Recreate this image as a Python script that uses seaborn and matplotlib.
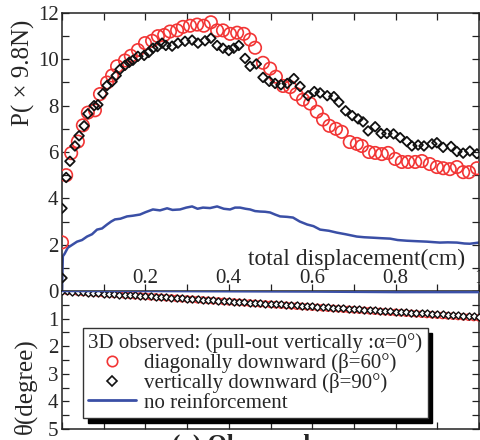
import matplotlib
matplotlib.use("Agg")
import matplotlib.pyplot as plt
from matplotlib.lines import Line2D
from matplotlib.ticker import MultipleLocator
import seaborn as sns

# ---------------- data ----------------
# pull-out load P (x9.8N) vs total displacement (cm)
disp_diag = [0.0, 0.010, 0.022, 0.038, 0.050, 0.062, 0.079, 0.091, 0.108, 0.120, 0.132, 0.151,
             0.165, 0.182, 0.199, 0.216, 0.230, 0.245, 0.259, 0.276, 0.290, 0.307, 0.324, 0.340,
             0.357, 0.372, 0.386, 0.403, 0.420, 0.436, 0.451, 0.463, 0.482, 0.499, 0.513, 0.530,
             0.547, 0.562, 0.578, 0.595, 0.611, 0.626, 0.641, 0.657, 0.671, 0.690, 0.707, 0.719,
             0.736, 0.751, 0.767, 0.782, 0.799, 0.815, 0.830, 0.847, 0.863, 0.882, 0.899, 0.914,
             0.930, 0.947, 0.962, 0.976, 0.995]
P_diag = [2.1, 5.0, 5.95, 6.45, 7.15, 7.7, 7.8, 8.5, 9.0, 9.3, 9.7, 9.95,
          10.15, 10.4, 10.7, 10.8, 11.0, 11.05, 11.2, 11.25, 11.4, 11.45, 11.5, 11.45,
          11.6, 11.25, 11.25, 11.1, 11.15, 11.1, 10.85, 10.5, 9.85, 9.6, 9.25, 8.85,
          8.8, 8.5, 8.26, 8.09, 7.74, 7.4, 7.13, 7.0, 6.87, 6.43, 6.35, 6.26,
          6.0, 5.96, 5.91, 5.96, 5.7, 5.57, 5.57, 5.57, 5.61, 5.48, 5.35, 5.3,
          5.26, 5.35, 5.13, 5.13, 5.3]

disp_vert = [0.0, 0.0, 0.010, 0.019, 0.031, 0.041, 0.053, 0.062, 0.077, 0.086, 0.098, 0.108,
             0.120, 0.130, 0.139, 0.151, 0.161, 0.170, 0.182, 0.197, 0.208, 0.218, 0.229, 0.240,
             0.249, 0.264, 0.278, 0.295, 0.312, 0.326, 0.343, 0.357, 0.372, 0.386, 0.400, 0.412,
             0.424, 0.439, 0.451, 0.466, 0.482, 0.497, 0.511, 0.525, 0.540, 0.556, 0.571, 0.590,
             0.605, 0.619, 0.636, 0.652, 0.664, 0.680, 0.696, 0.710, 0.722, 0.734, 0.751, 0.765,
             0.779, 0.795, 0.811, 0.827, 0.839, 0.854, 0.868, 0.887, 0.899, 0.914, 0.933, 0.947,
             0.962, 0.978, 0.995]
P_vert = [0.56, 3.57, 4.9, 5.6, 6.26, 6.7, 7.13, 7.65, 8.0, 8.04, 8.52, 8.87,
          9.04, 9.3, 9.57, 9.74, 9.87, 9.96, 10.13, 10.17, 10.3, 10.48, 10.55, 10.7,
          10.6, 10.57, 10.7, 10.78, 10.83, 10.7, 10.8, 10.91, 10.6, 10.48, 10.38, 10.48,
          10.6, 10.04, 9.7, 9.8, 9.22, 9.05, 8.96, 8.9, 8.96, 9.17, 8.83, 8.43,
          8.61, 8.55, 8.43, 8.39, 8.15, 7.78, 7.57, 7.43, 7.3, 6.91, 7.09, 6.8,
          6.8, 6.78, 6.62, 6.45, 6.26, 6.3, 6.26, 6.35, 6.4, 6.2, 6.24, 6.02,
          5.95, 6.04, 5.92]

disp_none = [0.0, 0.002, 0.006, 0.014, 0.025, 0.036, 0.048, 0.060, 0.072, 0.084, 0.096, 0.108,
             0.118, 0.127, 0.140, 0.156, 0.170, 0.187, 0.200, 0.218, 0.235, 0.252, 0.265, 0.283,
             0.298, 0.312, 0.325, 0.338, 0.355, 0.372, 0.388, 0.403, 0.415, 0.427, 0.440, 0.451,
             0.463, 0.475, 0.487, 0.499, 0.511, 0.523, 0.540, 0.554, 0.570, 0.588, 0.603, 0.619,
             0.640, 0.659, 0.680, 0.707, 0.725, 0.746, 0.765, 0.787, 0.805, 0.827, 0.850, 0.875,
             0.890, 0.906, 0.925, 0.947, 0.965, 0.978, 1.0]
P_none = [0.0, 1.5, 1.6, 1.87, 2.0, 2.13, 2.2, 2.35, 2.45, 2.65, 2.7, 2.87,
          3.0, 3.09, 3.12, 3.22, 3.25, 3.3, 3.4, 3.52, 3.48, 3.57, 3.5, 3.52,
          3.6, 3.65, 3.55, 3.6, 3.58, 3.65, 3.55, 3.52, 3.6, 3.6, 3.55, 3.52,
          3.45, 3.43, 3.42, 3.39, 3.3, 3.22, 3.2, 3.17, 3.0, 2.87, 2.8, 2.65,
          2.6, 2.52, 2.45, 2.35, 2.32, 2.3, 2.28, 2.26, 2.2, 2.17, 2.15, 2.13,
          2.11, 2.09, 2.1, 2.09, 2.05, 2.04, 2.09]

# rotation angle theta (degree) vs total displacement (cm)
disp_theta = [0.0, 0.0125, 0.025, 0.0375, 0.05, 0.0625, 0.075, 0.0875, 0.1, 0.1125,
              0.125, 0.1375, 0.15, 0.1625, 0.175, 0.1875, 0.2, 0.2125, 0.225, 0.2375,
              0.25, 0.2625, 0.275, 0.2875, 0.3, 0.3125, 0.325, 0.3375, 0.35, 0.3625,
              0.375, 0.3875, 0.4, 0.4125, 0.425, 0.4375, 0.45, 0.4625, 0.475, 0.4875,
              0.5, 0.5125, 0.525, 0.5375, 0.55, 0.5625, 0.575, 0.5875, 0.6, 0.6125,
              0.625, 0.6375, 0.65, 0.6625, 0.675, 0.6875, 0.7, 0.7125, 0.725, 0.7375,
              0.75, 0.7625, 0.775, 0.7875, 0.8, 0.8125, 0.825, 0.8375, 0.85, 0.8625,
              0.875, 0.8875, 0.9, 0.9125, 0.925, 0.9375, 0.95, 0.9625, 0.975, 0.9875, 1.0]
theta_diag = [0.0, 0.012, 0.024, 0.036, 0.049, 0.061, 0.073, 0.085, 0.097, 0.109,
              0.121, 0.133, 0.146, 0.158, 0.170, 0.182, 0.194, 0.206, 0.218, 0.230,
              0.243, 0.255, 0.267, 0.279, 0.291, 0.303, 0.315, 0.327, 0.340, 0.352,
              0.364, 0.376, 0.388, 0.400, 0.412, 0.424, 0.437, 0.449, 0.461, 0.473,
              0.485, 0.497, 0.509, 0.521, 0.534, 0.546, 0.558, 0.570, 0.582, 0.594,
              0.606, 0.618, 0.631, 0.643, 0.655, 0.667, 0.679, 0.691, 0.703, 0.715,
              0.728, 0.740, 0.752, 0.764, 0.776, 0.788, 0.800, 0.812, 0.825, 0.837,
              0.849, 0.861, 0.873, 0.885, 0.897, 0.909, 0.922, 0.934, 0.946, 0.958, 0.970]
theta_vert = [0.0, 0.012, 0.023, 0.035, 0.047, 0.058, 0.070, 0.081, 0.093, 0.105,
              0.116, 0.128, 0.140, 0.151, 0.163, 0.174, 0.186, 0.198, 0.209, 0.221,
              0.233, 0.244, 0.256, 0.267, 0.279, 0.291, 0.302, 0.314, 0.326, 0.337,
              0.349, 0.360, 0.372, 0.384, 0.395, 0.407, 0.419, 0.430, 0.442, 0.453,
              0.465, 0.477, 0.488, 0.500, 0.512, 0.523, 0.535, 0.546, 0.558, 0.570,
              0.581, 0.593, 0.605, 0.616, 0.628, 0.639, 0.651, 0.663, 0.674, 0.686,
              0.698, 0.709, 0.721, 0.732, 0.744, 0.756, 0.767, 0.779, 0.791, 0.802,
              0.814, 0.825, 0.837, 0.849, 0.860, 0.872, 0.884, 0.895, 0.907, 0.918, 0.930]
disp_theta_none = [0.0, 0.2, 0.4, 0.6, 0.8, 1.0]
theta_none = [0.0, 0.0, 0.01, 0.02, 0.04, 0.04]

x_ticks = [0.2, 0.4, 0.6, 0.8, 1.0]
x_ticklabels = ["0.2", "0.4", "0.6", "0.8", "1"]
p_ticks = [0, 2, 4, 6, 8, 10, 12]
theta_ticks = [1, 2, 3, 4, 5]

label_diag = "diagonally downward (β=60°)"
label_vert = "vertically downward (β=90°)"
label_none = "no reinforcement"
legend_title = "3D observed: (pull-out vertically :α=0°)"

RED = "#f23535"
BLUE = "#3a4fa6"
BLACK = "#111111"

# ---------------- style ----------------
sns.set_style("ticks")
plt.rcParams["font.family"] = ["Liberation Serif", "DejaVu Serif"]
plt.rcParams["axes.linewidth"] = 1.1
plt.rcParams["axes.edgecolor"] = "#222222"

fig = plt.figure(figsize=(4.8, 4.4), dpi=100)
W, H = 480.0, 440.0
ax = fig.add_axes([62 / W, 1 - 291 / H, 417 / W, 278 / H])
axb = fig.add_axes([62 / W, 1 - 429 / H, 417 / W, 138 / H])
for a in (ax, axb):
    a.patch.set_alpha(0)

# ---------------- top panel: P ----------------
sns.lineplot(x=disp_none, y=P_none, ax=ax, color=BLUE, lw=1.8, sort=False,
             estimator=None, legend=False)
sns.scatterplot(x=disp_diag, y=P_diag, ax=ax, marker="o", s=80, facecolors="none",
                edgecolor=RED, linewidth=1.2, legend=False, zorder=3)
sns.scatterplot(x=disp_vert, y=P_vert, ax=ax, marker="D", s=24, facecolors="none",
                edgecolor=BLACK, linewidth=1.3, legend=False, zorder=4)

ax.set_xlim(0, 1)
ax.set_ylim(0, 12)
ax.set_yticks(p_ticks)
ax.yaxis.set_minor_locator(MultipleLocator(1))
ax.set_xticks(x_ticks, labels=x_ticklabels)
ax.xaxis.set_minor_locator(MultipleLocator(0.1))
ax.tick_params(axis="both", which="both", direction="in", length=5, width=0.9,
               top=True, right=True, bottom=True, left=True, color="#222222")
ax.tick_params(axis="y", labelsize=15, pad=2.5)
ax.tick_params(axis="x", labelsize=15, pad=-15.5)
ax.set_ylabel("P( × 9.8N)", fontsize=18)
ax.yaxis.set_label_coords(-0.065, 0.784)
ax.set_xlabel("total displacement(cm)", fontsize=17)
ax.xaxis.set_label_coords(0.707, 0.15)
ax.xaxis.label.set_verticalalignment("top")
for side in ("top", "right", "bottom", "left"):
    ax.spines[side].set_visible(True)

# ---------------- bottom panel: theta ----------------
sns.scatterplot(x=disp_theta, y=theta_diag, ax=axb, marker="o", s=22, facecolors="none",
                edgecolor=RED, linewidth=0.9, legend=False, zorder=3)
sns.scatterplot(x=disp_theta, y=theta_vert, ax=axb, marker="D", s=13, facecolors="white",
                edgecolor=BLACK, linewidth=1.0, legend=False, zorder=4)
sns.lineplot(x=disp_theta_none, y=theta_none, ax=axb, color=BLUE, lw=1.8, sort=False,
             estimator=None, legend=False, zorder=5)

axb.set_xlim(0, 1)
axb.set_ylim(5, 0)
axb.set_yticks(theta_ticks)
axb.yaxis.set_minor_locator(MultipleLocator(0.5))
axb.xaxis.set_major_locator(MultipleLocator(0.1))
axb.tick_params(axis="both", which="both", direction="in", length=5, width=0.9,
                top=False, right=True, bottom=True, left=True, labelbottom=False,
                color="#222222")
axb.tick_params(axis="y", labelsize=15, pad=2.5)
axb.spines["top"].set_visible(False)
axb.set_ylabel("θ(degree)", fontsize=18)
axb.yaxis.set_label_coords(-0.06, 0.31)

handles = [
    Line2D([], [], ls="none", marker="o", ms=7.5, mfc="none", mec=RED, mew=1.2),
    Line2D([], [], ls="none", marker="D", ms=5, mfc="none", mec=BLACK, mew=1.2),
    Line2D([], [], color=BLUE, lw=2.0),
]
leg = axb.legend(handles, [label_diag, label_vert, label_none], title=legend_title,
                 loc="upper left", bbox_to_anchor=(83 / W, 1 - 328 / H),
                 bbox_transform=fig.transFigure, borderaxespad=0,
                 fontsize=15, title_fontsize=15, labelspacing=0.0, borderpad=0.25,
                 handlelength=2.3, handletextpad=0.4, alignment="left",
                 frameon=True, fancybox=False, framealpha=1,
                 shadow={"color": "black", "alpha": 1, "ox": 3.5, "oy": -3.5})
leg.get_frame().set_edgecolor("#333333")
leg.get_frame().set_linewidth(1.0)

fig.text(0.503, 1 - 434 / H, "(a) Observed", ha="center", va="top",
         fontsize=18, fontweight="bold")

fig.savefig("out.png", dpi=100, facecolor="white")
